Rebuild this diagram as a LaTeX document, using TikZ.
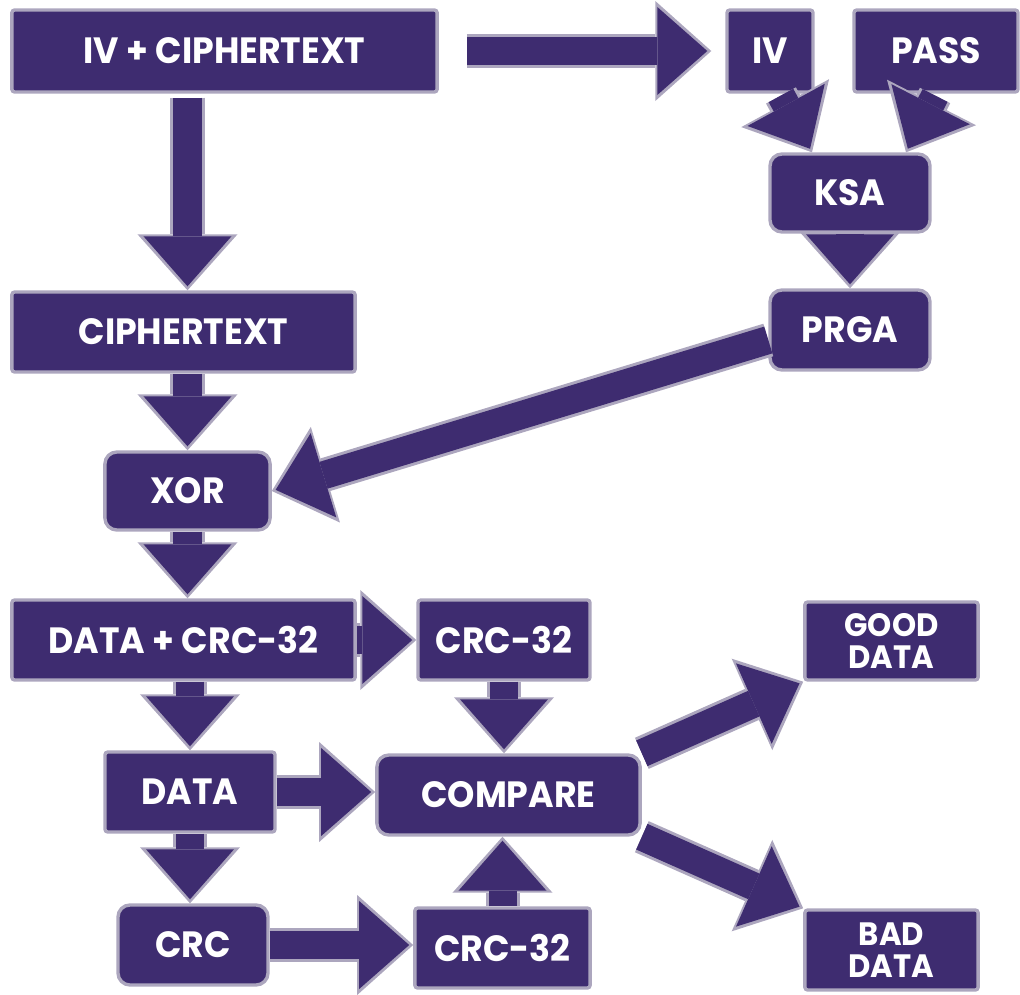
\documentclass[tikz,border=0pt]{standalone}
\usepackage{fontspec}
\setmainfont{Poppins}[FakeStretch=0.95]
\usetikzlibrary{arrows.meta}
\definecolor{plum}{RGB}{62,44,112}
\definecolor{rim}{RGB}{172,166,190}
\tikzset{
  box/.style={draw=rim, line width=2.4pt, fill=plum, text=white, inner sep=0pt,
    rounded corners=2pt, font=\bfseries\fontsize{26}{26}\selectfont},
  rbox/.style={box, rounded corners=0.3cm},
  twoline/.style={align=center, font=\bfseries\fontsize{23}{23}\selectfont},
  arr/.style={plum, line width=0.7cm, shorten >=0.1cm,
    -{Triangle[length=1.25cm,width=2.2cm,line width=0pt]},
    preaction={draw=rim, line width=0.85cm, shorten >=0pt,
      -{Triangle[length=1.4cm,width=2.5cm,line width=0pt]}}},
}
\begin{document}
\begin{tikzpicture}[x=0.025cm,y=-0.025cm]
  \useasboundingbox (0,0) rectangle (1020,994);
  \node[box,minimum width=10.63cm,minimum height=2.05cm] (ivct) at (224.5,51) {IV + CIPHERTEXT};
  \node[box,minimum width=2.15cm,minimum height=2.05cm] (iv) at (770,51) {IV};
  \node[box,minimum width=4.1cm,minimum height=2.05cm] (pass) at (936,51) {PASS};
  \node[rbox,minimum width=4cm,minimum height=1.95cm] (ksa) at (850,193) {KSA};
  \node[rbox,minimum width=4cm,minimum height=2cm] (prga) at (850,330) {PRGA};
  \node[box,minimum width=8.58cm,minimum height=2cm] (ctext) at (183.5,332) {CIPHERTEXT};
  \node[rbox,minimum width=4.13cm,minimum height=1.95cm] (xor) at (187.5,491) {XOR};
  \node[box,minimum width=8.58cm,minimum height=2cm] (datacrc) at (183.5,640) {DATA + CRC-32};
  \node[box,minimum width=4.3cm,minimum height=2cm] (crctop) at (504,640) {CRC-32};
  \node[box,minimum width=4.25cm,minimum height=2cm] (data) at (190,792) {DATA};
  \node[rbox,minimum width=6.58cm,minimum height=2cm] (compare) at (508.5,795) {COMPARE};
  \node[rbox,minimum width=3.75cm,minimum height=2cm] (crc) at (193,945) {CRC};
  \node[box,minimum width=4.38cm,minimum height=2cm] (crcbot) at (502.5,948) {CRC-32};
  \node[box,twoline,minimum width=4.33cm,minimum height=1.95cm] (good) at (891.5,641) {GOOD\\DATA};
  \node[box,twoline,minimum width=4.33cm,minimum height=2cm] (bad) at (891.5,950) {BAD\\DATA};

  \draw[arr,shorten <=0.7cm] (ivct.east) -- ([xshift=-0.35cm]iv.west);
  \draw[arr,shorten <=0.1cm] (ivct.south -| xor) -- (xor |- ctext.north);
  \draw[arr,shorten <=0.05cm] ([xshift=0.25cm]iv.south) -- ([xshift=-0.95cm]ksa.north);
  \draw[arr,shorten <=0.05cm] (pass.south) -- ([xshift=1.4cm]ksa.north);
  \draw[arr] (ksa.south) -- (prga.north);
  \draw[arr] ([yshift=-0.25cm]prga.west) -- (xor.east);
  \draw[arr] (ctext.south -| xor) -- (xor.north);
  \draw[arr] (xor.south) -- (xor.south |- datacrc.north);
  \draw[arr] (datacrc.east) -- (crctop.west);
  \draw[arr] (datacrc.south -| data) -- (data.north);
  \draw[arr] (crctop.south) -- (crctop.south |- compare.north);
  \draw[arr] (data.east) -- (data.east -| compare.west);
  \draw[arr] (data.south) -- (data.south |- crc.north);
  \draw[arr] (crc.east) -- (crc.east -| crcbot.west);
  \draw[arr] (crcbot.north) -- (crcbot.north |- compare.south);
  \draw[arr] (compare.north east) -- (good.south west);
  \draw[arr] (compare.south east) -- (bad.north west);
\end{tikzpicture}
\end{document}
